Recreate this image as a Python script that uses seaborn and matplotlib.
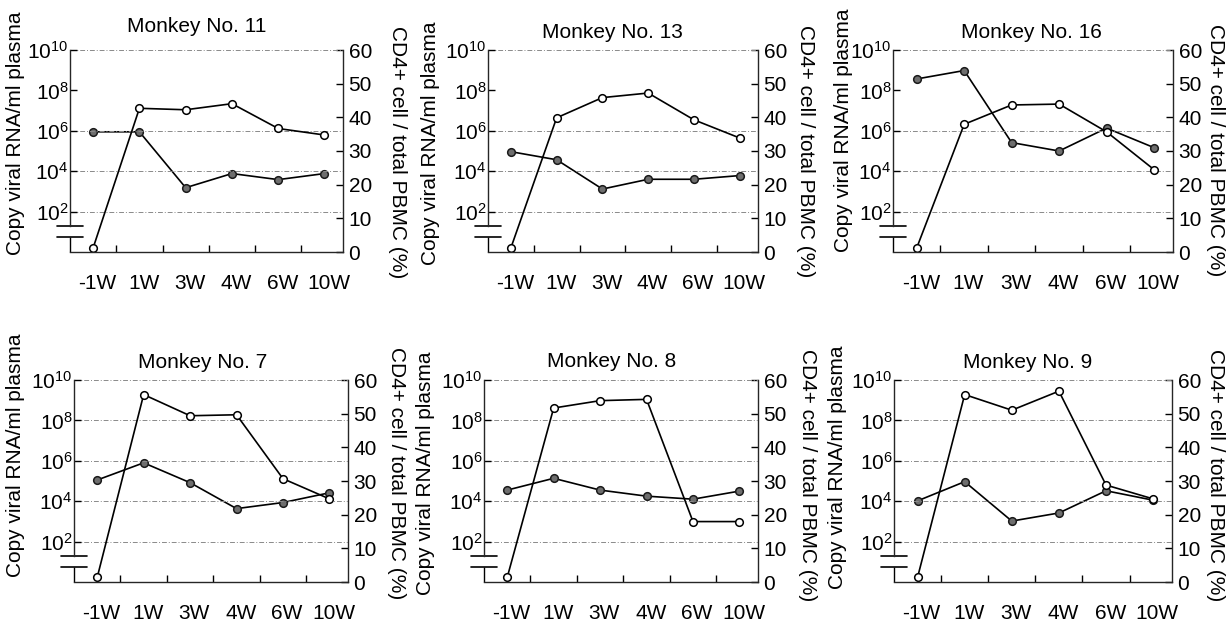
import numpy as np
import pandas as pd
import matplotlib
matplotlib.use("Agg")
import matplotlib.pyplot as plt
import matplotlib.transforms as mtransforms
import seaborn as sns

# ---- data -------------------------------------------------------------
weeks = ["-1W", "1W", "3W", "4W", "6W", "10W"]
monkeys = ["Monkey No. 11", "Monkey No. 13", "Monkey No. 16",
           "Monkey No. 7", "Monkey No. 8", "Monkey No. 9"]

# plasma viral RNA (copies/ml); the -1W values sit below the axis break
rna_11 = [1.6, 1.3e7, 1.1e7, 2.2e7, 1.3e6, 6.2e5]
rna_13 = [1.6, 4.4e6, 4.4e7, 7.4e7, 3.5e6, 4.4e5]
rna_16 = [1.6, 2.1e6, 1.9e7, 2.1e7, 8.9e5, 1.2e4]
rna_7 = [1.7, 1.9e9, 1.7e8, 1.9e8, 1.3e5, 1.3e4]
rna_8 = [1.7, 4.1e8, 9.5e8, 1.1e9, 9.8e2, 9.8e2]
rna_9 = [1.7, 1.9e9, 3.2e8, 2.8e9, 6.3e4, 1.3e4]

# CD4+ cells as % of total PBMC
cd4_11 = [35.7, 35.7, 19.1, 23.3, 21.5, 23.3]
cd4_13 = [29.8, 27.4, 18.7, 21.6, 21.6, 22.7]
cd4_16 = [51.4, 53.9, 32.5, 30.0, 36.8, 31.0]
cd4_7 = [30.3, 35.4, 29.5, 21.8, 23.6, 26.5]
cd4_8 = [27.3, 30.8, 27.3, 25.5, 24.6, 27.0]
cd4_9 = [24.1, 29.8, 18.1, 20.5, 27.1, 24.3]

rna_all = [rna_11, rna_13, rna_16, rna_7, rna_8, rna_9]
cd4_all = [cd4_11, cd4_13, cd4_16, cd4_7, cd4_8, cd4_9]

rna_ticks = [1e2, 1e4, 1e6, 1e8, 1e10]
cd4_ticks = [0, 10, 20, 30, 40, 50, 60]
grid_top_row = [1e2, 1e4, 1e6, 1e10]
grid_bottom_row = [1e2, 1e4, 1e6, 1e8, 1e10]

# ---- style ------------------------------------------------------------
sns.set_theme(style="ticks")
plt.rcParams["font.family"] = ["Liberation Sans", "DejaVu Sans"]
plt.rcParams["mathtext.fontset"] = "custom"
plt.rcParams["mathtext.rm"] = "Liberation Sans"
plt.rcParams["mathtext.it"] = "Liberation Sans:italic"
plt.rcParams["axes.linewidth"] = 1.0
plt.rcParams["text.color"] = "black"
plt.rcParams["axes.labelcolor"] = "black"
plt.rcParams["xtick.color"] = "black"
plt.rcParams["ytick.color"] = "black"

FS = 15
W, H = 1229, 623
fig = plt.figure(figsize=(W / 100, H / 100), dpi=100)

# panel boxes in pixels: left, right, top, bottom
boxes = [(70, 343, 50, 252), (488, 758, 50, 252), (893, 1173, 50, 252),
         (74, 348, 380, 582), (484, 758, 380, 582), (894, 1172, 380, 582)]
# label / title placement in pixels
left_lab_dx = [45, 48, 40, 49, 49, 47]
left_lab_y = [133, 143, 130, 455, 473, 467]
right_lab_dx = [54, 47, 43, 49, 49, 44]
right_lab_y = [152, 151, 150, 473, 475, 475]
title_x = [197, 612, 1031, 203, 612, 1028]
title_y = [27, 33, 33, 362, 361, 362]

xpos = np.arange(len(weeks)) + 0.5
brk_hi, brk_lo = 10 ** 1.3, 10 ** 0.75

for i, (name, rna, cd4) in enumerate(zip(monkeys, rna_all, cd4_all)):
    l, r, t, b = boxes[i]
    pw, ph = r - l, b - t
    ax = fig.add_axes([l / W, 1 - b / H, pw / W, ph / H])
    ax2 = ax.twinx()

    df = pd.DataFrame({"pos": xpos, "week": weeks, "rna": rna, "cd4": cd4})

    ax.set_yscale("log")
    ax.set_ylim(1, 1e10)
    ax.set_xlim(0, 5.9)
    ax2.set_ylim(0, 60)

    # dotted horizontal guides
    for g in (grid_top_row if i < 3 else grid_bottom_row):
        ax.axhline(g, color="#8a8a8a", lw=0.7, ls=(0, (5, 2, 1, 2)), zorder=0)

    # CD4+ percentage: grey filled circles on the right axis
    sns.lineplot(data=df, x="pos", y="cd4", ax=ax2, color="black", lw=1.2,
                 marker="o", markersize=5.5, markerfacecolor="#6e6e6e",
                 markeredgecolor="#1a1a1a", markeredgewidth=1.1, sort=False)
    # viral load: open circles on the log axis
    sns.lineplot(data=df, x="pos", y="rna", ax=ax, color="black", lw=1.2,
                 marker="o", markersize=5.5, markerfacecolor="white",
                 markeredgecolor="black", markeredgewidth=1.1, sort=False)
    ax.set_zorder(ax2.get_zorder() + 1)
    ax.patch.set_visible(False)

    # spines
    for s in ("top", "right"):
        ax.spines[s].set_visible(False)
    for s in ("top", "left", "bottom"):
        ax2.spines[s].set_visible(False)
    ax.spines["left"].set_bounds(brk_hi, 1e10)
    trans = mtransforms.blended_transform_factory(ax.transAxes, ax.transData)
    ax.plot([0, 0], [1, brk_lo], transform=trans, color="black", lw=1.0,
            clip_on=False, solid_capstyle="butt")
    dx = 13 / pw
    for yb in (brk_hi, brk_lo):
        ax.plot([-dx, dx], [yb, yb], transform=trans, color="black", lw=1.2,
                clip_on=False)

    # left axis
    ax.set_yticks(rna_ticks)
    ax.set_yticklabels([r"$\mathdefault{10^{%d}}$" % int(np.log10(v)) for v in rna_ticks])
    ax.yaxis.set_minor_locator(matplotlib.ticker.NullLocator())
    ax.tick_params(axis="y", direction="in", length=5, width=1.0, pad=1,
                   labelsize=FS)
    ax.set_ylabel("Copy viral RNA/ml plasma", fontsize=FS)
    ax.yaxis.set_label_coords(-left_lab_dx[i] / pw, (b - left_lab_y[i]) / ph)

    # bottom axis
    ax.set_xticks(np.arange(1, len(weeks)))
    ax.set_xticklabels([])
    ax.tick_params(axis="x", direction="in", length=5, width=1.0)
    ax.set_xlabel("")
    for p, w in zip(xpos, weeks):
        ax.annotate(w, xy=(p, 0), xycoords=("data", "axes fraction"),
                    xytext=(3, -16), textcoords="offset points",
                    ha="center", va="top", fontsize=FS)

    # right axis
    ax2.set_yticks(cd4_ticks)
    ax2.tick_params(axis="y", direction="in", length=5, width=1.0, pad=4,
                    labelsize=FS)
    ax2.set_ylabel("CD4+ cell / total PBMC (%)", fontsize=FS, rotation=270,
                   va="center")
    ax2.yaxis.set_label_coords(1 + right_lab_dx[i] / pw, (b - right_lab_y[i]) / ph)

    ax.set_title(name, fontsize=FS, pad=0, va="center",
                 x=(title_x[i] - l) / pw, y=(b - title_y[i]) / ph)

fig.savefig("out.png", dpi=100)
